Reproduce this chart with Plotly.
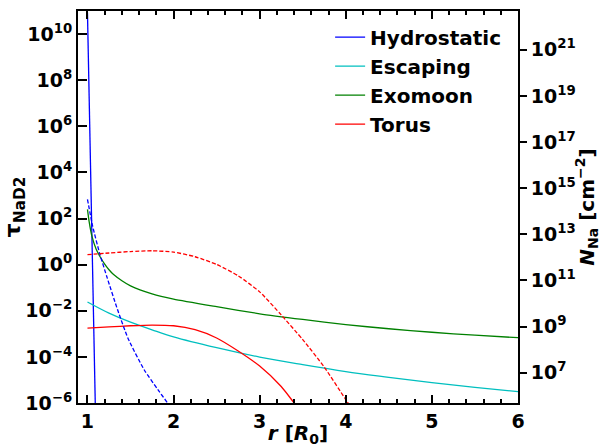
import plotly.graph_objects as go

# ---- data ----
r_hydro = [1.00, 1.02, 1.04, 1.06, 1.08, 1.10]
tau_hydro = [8.7e10, 1.26e7, 2.0e3, 0.40, 7.9e-5, 1.6e-8]

r_hydro_d = [1.00, 1.06, 1.14, 1.23, 1.35, 1.47, 1.66, 1.82, 1.93, 2.00]
tau_hydro_d = [6.8e2, 47.0, 3.2, 0.26, 1.1e-2, 6.5e-4, 2.7e-5, 3.7e-6, 1.0e-6, 4.0e-7]

r_esc = [1.0, 1.25, 1.5, 1.75, 2.0, 2.5, 3.0, 3.5, 4.0, 4.5, 5.0, 5.5, 6.0]
tau_esc = [2.4e-2, 7.9e-3, 3.2e-3, 1.5e-3, 7.4e-4, 2.5e-4, 9.8e-5, 4.6e-5,
           2.3e-5, 1.3e-5, 7.6e-6, 4.8e-6, 3.1e-6]

r_moon = [1.0, 1.02, 1.05, 1.1, 1.15, 1.2, 1.25, 1.3, 1.4, 1.5, 1.75, 2.0, 2.5, 3.0,
          3.5, 4.0, 4.5, 5.0, 5.5, 6.0]
tau_moon = [2.5e2, 71.0, 18.0, 4.8, 2.1, 1.05, 0.60, 0.38, 0.20, 0.12, 5.4e-2, 3.2e-2,
            1.5e-2, 7.4e-3, 4.2e-3, 2.5e-3, 1.66e-3, 1.17e-3, 8.7e-4, 6.8e-4]

r_torus = [1.0, 1.25, 1.5, 1.75, 2.0, 2.25, 2.5, 2.75, 3.0, 3.25, 3.4, 3.5]
tau_torus = [1.78e-3, 2.0e-3, 2.24e-3, 2.4e-3, 2.24e-3, 1.51e-3, 6.6e-4,
             1.8e-4, 4.0e-5, 5.2e-6, 1.0e-6, 3.2e-7]

r_torus_d = [1.0, 1.25, 1.5, 1.75, 2.0, 2.25, 2.5, 2.75, 3.0, 3.25, 3.5, 3.75,
             4.0, 4.1]
tau_torus_d = [2.7, 3.2, 3.7, 4.0, 3.5, 2.2, 1.02, 0.33, 6.6e-2, 6.6e-3,
               5.6e-4, 3.6e-5, 1.4e-6, 4.0e-7]

left_tickvals = [1e-6, 1e-4, 1e-2, 1e0, 1e2, 1e4, 1e6, 1e8, 1e10]
left_ticktext = ["10<sup>−6</sup>", "10<sup>−4</sup>", "10<sup>−2</sup>", "10<sup>0</sup>",
                 "10<sup>2</sup>", "10<sup>4</sup>", "10<sup>6</sup>", "10<sup>8</sup>",
                 "10<sup>10</sup>"]
right_tickvals = [1e7, 1e9, 1e11, 1e13, 1e15, 1e17, 1e19, 1e21]
right_ticktext = ["10<sup>7</sup>", "10<sup>9</sup>", "10<sup>11</sup>", "10<sup>13</sup>",
                  "10<sup>15</sup>", "10<sup>17</sup>", "10<sup>19</sup>", "10<sup>21</sup>"]
x_tickvals = [1, 2, 3, 4, 5, 6]

BLUE = "#0000ff"
CYAN = "#00bfbf"
GREEN = "#008000"
RED = "#ff0000"
LW = 1.3

fig = go.Figure()
fig.add_trace(go.Scatter(x=r_hydro, y=tau_hydro, mode="lines", name="Hydrostatic",
                         line=dict(color=BLUE, width=LW)))
fig.add_trace(go.Scatter(x=r_esc, y=tau_esc, mode="lines", name="Escaping",
                         line=dict(color=CYAN, width=LW, shape="spline")))
fig.add_trace(go.Scatter(x=r_moon, y=tau_moon, mode="lines", name="Exomoon",
                         line=dict(color=GREEN, width=LW, shape="spline", smoothing=0.6)))
fig.add_trace(go.Scatter(x=r_torus, y=tau_torus, mode="lines", name="Torus",
                         line=dict(color=RED, width=LW, shape="spline", smoothing=0.6)))
fig.add_trace(go.Scatter(x=r_hydro_d, y=tau_hydro_d, mode="lines", showlegend=False,
                         line=dict(color=BLUE, width=LW, dash="4px,2px", shape="spline", smoothing=0.6)))
fig.add_trace(go.Scatter(x=r_torus_d, y=tau_torus_d, mode="lines", showlegend=False,
                         line=dict(color=RED, width=LW, dash="4px,2px", shape="spline", smoothing=0.6)))
# dummy trace to attach the right axis
fig.add_trace(go.Scatter(x=[None], y=[None], yaxis="y2", showlegend=False, mode="lines"))

FONT = dict(family="DejaVu Sans", size=19, color="black", weight="bold")

fig.update_layout(
    width=601, height=447,
    margin=dict(l=78, r=83, t=11, b=44),
    paper_bgcolor="white", plot_bgcolor="white",
    font=FONT,
    showlegend=True,
    legend=dict(x=0.573, y=0.983, xanchor="left", yanchor="top",
                bgcolor="rgba(0,0,0,0)", borderwidth=0,
                font=dict(family="DejaVu Sans", size=20, color="black", weight="bold")),
    xaxis=dict(range=[0.89, 6.0], tickvals=x_tickvals, ticktext=[str(v) for v in x_tickvals],
               automargin=False,
               showgrid=False, zeroline=False, showline=True, linecolor="black", linewidth=2,
               mirror="ticks", ticks="inside", ticklen=8, tickwidth=2, tickcolor="black",
               minor=dict(dtick=0.2, ticks="inside", ticklen=4, tickwidth=1.5, tickcolor="black"),
               tickfont=FONT,
               title=dict(text="<i>r</i> [<i>R</i><sub>0</sub>]", font=dict(family="DejaVu Sans", size=20, weight="bold"),
                          standoff=3)),
    yaxis=dict(type="log", range=[-6.0, 11.0], tickvals=left_tickvals, ticktext=left_ticktext,
               automargin=False,
               showgrid=False, zeroline=False, showline=True, linecolor="black", linewidth=2,
               mirror=True, ticks="inside", ticklen=9, tickwidth=2, tickcolor="black",
               tickfont=FONT,
               title=dict(text="τ<sub>NaD2</sub>", font=dict(family="DejaVu Sans", size=22, weight="bold"),
                          standoff=10)),
    yaxis2=dict(type="log", range=[5.683, 22.683], overlaying="y", side="right",
                automargin=False,
                tickvals=right_tickvals, ticktext=right_ticktext,
                showgrid=False, zeroline=False, showline=True, linecolor="black", linewidth=2,
                ticks="outside", ticklen=7, tickwidth=2, tickcolor="black",
                tickfont=FONT,
                title=dict(text="<i>N</i><sub>Na</sub> [cm<sup>−2</sup>]",
                           font=dict(family="DejaVu Sans", size=20, weight="bold"), standoff=10)),
)

fig.write_html("out.html")
